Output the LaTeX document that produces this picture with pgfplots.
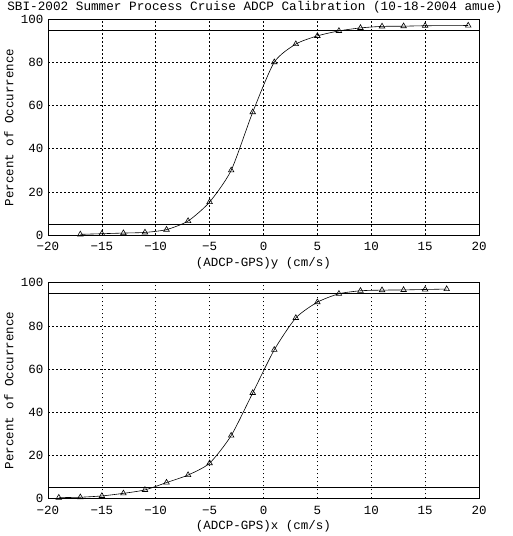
\documentclass[border=0pt]{standalone}
\usepackage{pgfplots}
\pgfplotsset{compat=1.18}
\usepackage{fontspec}
\setmainfont{Liberation Mono}
\begin{document}
\begin{tikzpicture}
\path[use as bounding box] (0pt,0pt) rectangle (512pt,536pt);
\pgfplotsset{
  myax/.style={
    scale only axis, width=431pt, height=215.5pt,
    xmin=-20, xmax=20, ymin=0, ymax=100,
    xtick={-20,-15,...,20}, ytick={0,20,...,100},
    xticklabels={−20,−15,−10,−5,0,5,10,15,20},
    yticklabels={0,20,40,60,80,100},
    tick style={draw=none},
    grid=major,
    major grid style={black, line width=0.6pt, dash pattern=on 1.5pt off 2.5pt},
    axis line style={black, line width=0.8pt},
    tick label style={font=\fontsize{12.5}{12.5}\selectfont},
    label style={font=\fontsize{12.5}{12.5}\selectfont},
    xticklabel style={yshift=-4pt},
    yticklabel style={xshift=-1pt},
    ylabel={Percent of Occurrence},
    ylabel style={at={(axis description cs:-0.0905,0.5)}, anchor=center},
    xlabel style={at={(axis description cs:0.5,-0.13)}, anchor=center},
  },
  myplot/.style={black, line width=0.6pt, smooth, tension=0.4, mark=triangle, mark size=3.2pt, mark options={solid, line width=0.6pt}},
}
\node[font=\fontsize{12.7}{12.7}\selectfont, anchor=center] at (255pt,528.5pt) {SBI-2002 Summer Process Cruise ADCP Calibration (10-18-2004 amue)};
\begin{axis}[myax, at={(48pt,301pt)}, anchor=south west, xlabel={(ADCP-GPS)y (cm/s)}]
\addplot[myplot] coordinates {
(-17,0.3) (-15,0.6) (-13,0.9) (-11,1.2) (-9,2.5) (-7,6.5) (-5,15.3) (-3,30.0) (-1,57.0) (1,80.2) (3,88.6) (5,92.4) (7,94.7) (9,96.1) (11,96.8) (13,96.9) (15,97.1) (19,97.2)
};
\addplot[black, line width=0.8pt] coordinates {(-20,95) (20,95)};
\addplot[black, line width=0.8pt] coordinates {(-20,5) (20,5)};
\end{axis}
\begin{axis}[myax, at={(48pt,37.7pt)}, anchor=south west, xlabel={(ADCP-GPS)x (cm/s)}]
\addplot[myplot] coordinates {
(-19,0.3) (-17,0.5) (-15,1.1) (-13,2.3) (-11,3.9) (-9,7.3) (-7,10.8) (-5,16.3) (-3,29.1) (-1,48.9) (1,68.9) (3,83.7) (5,91.0) (7,94.9) (9,96.3) (11,96.6) (13,96.7) (15,96.9) (17,97.1)
};
\addplot[black, line width=0.8pt] coordinates {(-20,95) (20,95)};
\addplot[black, line width=0.8pt] coordinates {(-20,5) (20,5)};
\end{axis}
\end{tikzpicture}
\end{document}
